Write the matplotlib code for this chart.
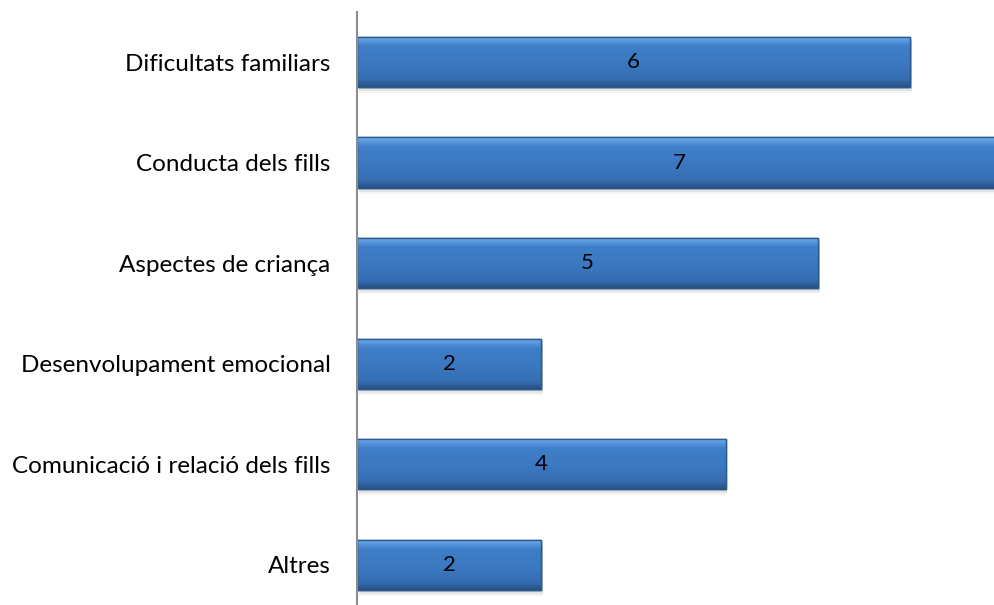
import numpy as np
import matplotlib.pyplot as plt
from matplotlib.colors import LinearSegmentedColormap
from matplotlib.patches import Rectangle

categories = ['Dificultats familiars', 'Conducta dels fills', 'Aspectes de criança',
              'Desenvolupament emocional', 'Comunicació i relació dels fills', 'Altres']
values = [6, 7, 5, 2, 4, 2]

plt.rcParams['font.family'] = ['Lato', 'DejaVu Sans']

fig = plt.figure(figsize=(9.95, 6.05), dpi=100)
ax = fig.add_axes([357 / 995, -0.0165, (1002 - 357) / 995, 0.997])

ypos = np.arange(len(categories))
bar_h = 0.5

bars = ax.barh(ypos, values, height=bar_h, color='#3B78C0', edgecolor='#2B5A8F',
               linewidth=1.0, zorder=3)

# soft shadow under each bar
for b in bars:
    x0, y0, w, h = b.get_x(), b.get_y(), b.get_width(), b.get_height()
    for k, a in enumerate([0.10, 0.07, 0.04]):
        ax.add_patch(Rectangle((x0 + 0.02, y0 + 0.02 + k * 0.02), w, h, color='black',
                               alpha=a, lw=0, zorder=2))

# vertical gradient (Excel-like bevel), light on top
grad = LinearSegmentedColormap.from_list('bevel', [
    (0.0, '#79B2F0'), (0.08, '#5C9BE0'), (0.2, '#3F7EC8'), (0.6, '#3A77BF'),
    (0.85, '#356DB0'), (0.95, '#2C5A93'), (1.0, '#27507F')])
g = np.linspace(0, 1, 256).reshape(-1, 1)
for b in bars:
    x0, y0, w, h = b.get_x(), b.get_y(), b.get_width(), b.get_height()
    im = ax.imshow(g, cmap=grad, aspect='auto', extent=(x0, x0 + w, y0 + h, y0),
                   origin='upper', zorder=3.5, interpolation='bilinear')
    im.set_clip_path(b)
    ax.add_patch(Rectangle((x0, y0), w, h, fill=False, ec='#2B5A8F', lw=1.0, zorder=4))
    ax.text(x0 + w / 2, y0 + h / 2, str(int(w)), ha='center', va='center',
            fontsize=16, color='black', zorder=5)

ax.set_xlim(0, 7)
ax.set_ylim(len(categories) - 0.5, -0.5)
ax.set_yticks(ypos)
ax.set_yticklabels(categories, fontsize=17.5)
ax.tick_params(axis='y', length=0, pad=19)
ax.set_xticks([])
for s in ['top', 'right', 'bottom']:
    ax.spines[s].set_visible(False)
ax.spines['left'].set_color('#8C8C8C')
ax.spines['left'].set_linewidth(1.5)
ax.spines['left'].set_zorder(6)

fig.savefig('out.png', dpi=100)
